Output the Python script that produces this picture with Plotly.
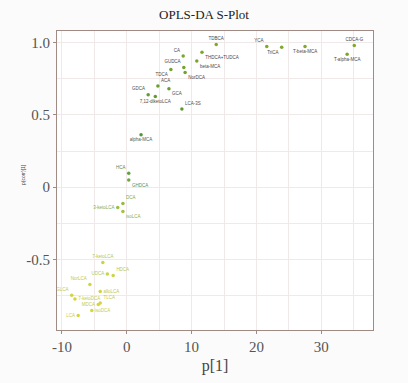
import plotly.graph_objects as go

# Metabolite names, loading p[1] and correlation p(corr)[1]
names = [
    "TDBCA", "YCA", "TriCA", "T-beta-MCA", "CDCA-G", "T-alpha-MCA",
    "THDCA+TUDCA", "beta-MCA", "CA", "GUDCA", "NorDCA", "TDCA",
    "ACA", "GDCA", "GCA", "7,12-diketoLCA", "LCA-3S",
    "alpha-MCA", "HCA", "GHDCA",
    "DCA", "3-ketoLCA", "isoLCA",
    "7-ketoLCA", "HDCA", "UDCA", "NorLCA", "alloLCA", "GLCA",
    "7-ketoDCA", "TLCA", "MDCA", "isoDCA", "LCA",
]
p1 = [
    13.8, 21.6, 23.9, 27.5, 35.1, 34.0,
    11.6, 10.8, 8.7, 8.8, 9.0, 6.8,
    4.8, 3.3, 6.5, 4.4, 8.5,
    2.2, 0.3, 0.3,
    -0.6, -1.4, -0.6,
    -3.7, -2.1, -3.0, -5.7, -4.1, -8.5,
    -8.0, -4.1, -4.4, -5.4, -7.5,
]
pcorr = [
    0.987, 0.973, 0.967, 0.973, 0.980, 0.920,
    0.933, 0.873, 0.907, 0.827, 0.793, 0.813,
    0.700, 0.640, 0.680, 0.627, 0.540,
    0.363, 0.097, 0.050,
    -0.113, -0.140, -0.167,
    -0.520, -0.610, -0.600, -0.673, -0.720, -0.747,
    -0.773, -0.800, -0.810, -0.853, -0.887,
]
label_pos = [
    "top center", "top left", "bottom left", "bottom center", "top center", "bottom center",
    "bottom right", "bottom right", "top left", "top left", "bottom right", "bottom left",
    "top right", "top left", "bottom right", "bottom center", "top right",
    "bottom center", "top left", "bottom right",
    "top right", "middle left", "bottom right",
    "top center", "top right", "middle left", "top left", "middle right", "top left",
    "middle right", "top right", "middle left", "middle right", "middle left",
]

x_ticks = [-10, 0, 10, 20, 30]
x_ticktext = ["-10", "0", "10", "20", "30"]
y_ticks = [-0.5, 0, 0.5, 1.0]
y_ticktext = ["-0.5", "0", "0.5", "1.0"]


def mix(c1, c2, t):
    return "rgb(%d,%d,%d)" % tuple(round(a + (b - a) * t) for a, b in zip(c1, c2))


def shade(v, stops):
    # linear interpolation over (value, rgb) stops
    for (v0, c0), (v1, c1) in zip(stops, stops[1:]):
        if v <= v1:
            return mix(c0, c1, min(max((v - v0) / (v1 - v0), 0), 1))
    return mix(stops[-1][1], stops[-1][1], 0)


marker_stops = [(-1.0, (218, 214, 60)), (-0.3, (196, 210, 70)),
                (0.2, (70, 150, 60)), (0.5, (90, 150, 50)), (1.0, (130, 170, 40))]
text_stops = [(-1.0, (205, 205, 80)), (-0.3, (160, 195, 90)),
              (0.2, (70, 120, 80)), (0.5, (80, 80, 80)), (1.0, (70, 70, 70))]

marker_colors = [shade(v, marker_stops) for v in pcorr]
text_colors = [shade(v, text_stops) for v in pcorr]

frame = "#a08a84"
grid = "#f0e9e9"

fig = go.Figure(
    go.Scatter(
        x=p1, y=pcorr, mode="markers+text",
        text=names, textposition=label_pos,
        textfont=dict(family="Liberation Sans", size=4.5, color=text_colors),
        marker=dict(size=3.5, color=marker_colors, line=dict(width=0)),
        cliponaxis=False, hoverinfo="text",
    )
)

fig.update_layout(
    width=408, height=383,
    margin=dict(l=57, r=35, t=31, b=43),
    paper_bgcolor="#fbfbfb", plot_bgcolor="white",
    showlegend=False,
    title=dict(text="OPLS-DA S-Plot", x=0.5, xanchor="center", y=0.962, yanchor="middle",
               font=dict(family="Liberation Serif", size=13, color="#222")),
    font=dict(family="Liberation Serif", color="#555"),
)
fig.update_xaxes(
    range=[-10.77, 37.99], tickvals=x_ticks, ticktext=x_ticktext, ticks="outside", ticklen=3,
    tickcolor=frame, tickfont=dict(size=15, color="#555"),
    showgrid=True, gridcolor=grid, gridwidth=1,
    minor=dict(dtick=5, tick0=0, showgrid=True, gridcolor=grid, gridwidth=1),
    showline=True, linecolor=frame, linewidth=1.2, mirror=True, zeroline=False,
    title=dict(text="p[1]", font=dict(size=16, color="#444"), standoff=5),
)
fig.update_yaxes(
    range=[-0.987, 1.08], tickvals=y_ticks, ticktext=y_ticktext, ticks="outside", ticklen=3,
    tickcolor=frame, tickfont=dict(size=15, color="#555"),
    showgrid=True, gridcolor=grid, gridwidth=1,
    minor=dict(dtick=0.25, tick0=0, showgrid=True, gridcolor=grid, gridwidth=1),
    showline=True, linecolor=frame, linewidth=1.2, mirror=True, zeroline=False,
)
fig.add_annotation(
    text="p(corr)[1]", xref="paper", yref="paper", x=-0.125, y=0.52,
    textangle=-90, showarrow=False,
    font=dict(family="Liberation Sans", size=5, color="#444"),
)

fig.write_html("out.html")
